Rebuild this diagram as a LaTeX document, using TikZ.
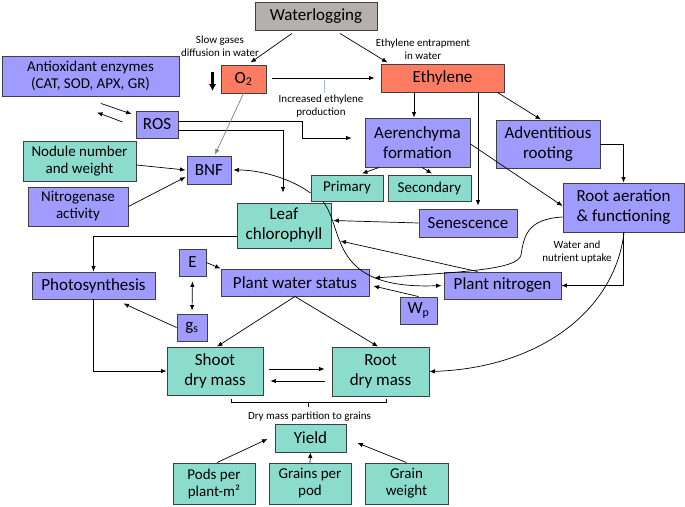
\documentclass[tikz,border=0pt]{standalone}
\usepackage{fontspec}
\setmainfont{Carlito}
\usepackage{xcolor}
\usepackage{tikz}
\usetikzlibrary{arrows.meta, positioning, calc}
\definecolor{wlgray}{HTML}{B3B0AE}
\definecolor{wlpurple}{HTML}{A09CFF}
\definecolor{wlteal}{HTML}{8CDCCD}
\definecolor{wlsalmon}{HTML}{FF7B61}
\definecolor{wlline}{HTML}{404040}
\definecolor{wlblue}{HTML}{9CC3E6}
\newcommand{\facfont}{\fontsize{17}{20}\selectfont}
\newcommand{\minorfont}{\fontsize{15}{17}\selectfont}
\newcommand{\labfont}{\fontsize{11}{13}\selectfont}

\begin{document}
\begin{tikzpicture}[
  x=1pt, y=-1pt,
  facbox/.style={rectangle, draw=wlline, line width=0.9pt, fill=#1,
    align=center, inner sep=1pt, font=\facfont},
  minorbox/.style={facbox=#1, font=\minorfont},
  sz/.style 2 args={minimum width=#1pt, minimum height=#2pt},
  note/.style={align=center, inner sep=0pt, font=\labfont},
  link/.style={->, line width=0.7pt},
  >={Latex[length=5.5pt,width=4.5pt]},
]
  \useasboundingbox (0,0) rectangle (685,506);

  % Top: waterlogging, oxygen and ethylene
  \node[facbox=wlgray, sz={122}{28}] (wlog) at (316,16) {Waterlogging};
  \node[facbox=wlsalmon, sz={45}{28}] (o2) at (243.5,79) {O\textsubscript{2}};
  \node[facbox=wlsalmon, sz={123}{28}] (eth) at (442.5,78) {Ethylene};
  \node[note] (slow) at (220,46) {Slow gases\\diffusion in water};
  \node[note] (entrap) at (423,49) {Ethylene entrapment\\in water};
  \node[note] (incr) at (321,106) {Increased ethylene\\production};

  % Left column
  \node[minorbox=wlpurple, sz={177}{40}] (antiox) at (90.5,76) {Antioxidant enzymes\\(CAT, SOD, APX, GR)};
  \node[facbox=wlpurple, sz={42}{27}] (ros) at (157,124.5) {ROS};
  \node[minorbox=wlteal, sz={113}{40}] (nodule) at (79.5,161) {Nodule number\\and weight};
  \node[facbox=wlpurple, sz={44}{28}] (bnf) at (209,170) {BNF};
  \node[minorbox=wlpurple, sz={100}{39}] (nitro) at (78,206.5) {Nitrogenase\\activity};

  % Ethylene responses
  \node[facbox=wlpurple, sz={105}{49}] (aer) at (417.5,142.5) {Aerenchyma\\formation};
  \node[facbox=wlpurple, sz={104}{48}] (adv) at (548,144) {Adventitious\\rooting};
  \node[minorbox=wlteal, sz={72}{26}] (prim) at (347,188) {Primary};
  \node[minorbox=wlteal, sz={83}{26}] (sec) at (429.5,188) {Secondary};
  \node[facbox=wlpurple, sz={98}{28}] (sen) at (468,223) {Senescence};
  \node[facbox=wlpurple, sz={121}{49}] (raf) at (623.5,207.5) {Root aeration\\\& functioning};
  \node[note] (uptake) at (577,252) {Water and\\nutrient uptake};

  % Middle: leaf, water and nitrogen status
  \node[facbox=wlteal, sz={94}{45}] (leaf) at (284,225.5) {Leaf\\chlorophyll};
  \node[facbox=wlpurple, sz={123}{27}] (photo) at (93.5,285.5) {Photosynthesis};
  \node[facbox=wlpurple, sz={27}{27}] (evap) at (192.5,262.5) {E};
  \node[facbox=wlpurple, sz={148}{27}] (pws) at (295,282.5) {Plant water status};
  \node[facbox=wlpurple, sz={30}{27}] (gs) at (192,327.5) {g\textsubscript{s}};
  \node[facbox=wlpurple, sz={117}{27}] (pn) at (502.5,285.5) {Plant nitrogen};
  \node[facbox=wlpurple, sz={37}{27}] (wp) at (418.5,310.5) {W\textsubscript{p}};

  % Bottom: dry mass and yield
  \node[facbox=wlteal, sz={96}{48}] (shoot) at (215,371) {Shoot\\dry mass};
  \node[facbox=wlteal, sz={97}{49}] (rootdm) at (380.5,371.5) {Root\\dry mass};
  \node[note] (partition) at (309.5,417) {Dry mass partition to grains};
  \node[facbox=wlteal, sz={71}{28}] (yield) at (310.5,438) {Yield};
  \node[minorbox=wlteal, sz={82}{41}] (pods) at (214,483.5) {Pods per\\plant-m²};
  \node[minorbox=wlteal, sz={82}{41}] (gpp) at (310,483.5) {Grains per\\pod};
  \node[minorbox=wlteal, sz={83}{41}] (gw) at (406.5,483.5) {Grain\\weight};

  % Connectors from waterlogging
  \draw[link] ([xshift=-24pt,yshift=-3pt]wlog.south) -- ([xshift=7pt,yshift=2pt]o2.north);
  \draw[link] ([xshift=24pt,yshift=-3pt]wlog.south) -- ([xshift=7pt,yshift=1pt]eth.north west);
  \draw[link] ([xshift=6pt,yshift=1pt]o2.east) -- ([xshift=-6pt]eth.west);
  \draw[wlblue, line width=0.7pt] ([xshift=3pt,yshift=2pt]incr.north) -- ([xshift=3pt,yshift=15pt]incr.north);
  \draw[-{Latex[length=7pt,width=7.5pt]}, line width=2.4pt] ([xshift=-8pt,yshift=7pt]o2.west) -- ([xshift=-8pt,yshift=-12pt]o2.west);

  % ROS and BNF
  \draw[link] ([xshift=10.5pt,yshift=-7pt]antiox.south) -- ([xshift=-4pt,yshift=10.5pt]ros.west);
  \draw[link] ([xshift=-13pt,yshift=2.5pt]ros.west) -- ([xshift=6.5pt,yshift=-16pt]antiox.south);
  \draw[link] ([yshift=3.5pt]ros.east) -| ++(124,17) -- ([xshift=-13pt,yshift=4.5pt]aer.west);
  \draw[link] ([yshift=-5.5pt]ros.east) -| ([xshift=-1pt,yshift=10pt]leaf.north);
  \draw[link, gray] (o2.south) -- ([xshift=6pt,yshift=1pt]bnf.north);
  \draw[link] ([yshift=-4pt]nodule.east) -- ([xshift=-1pt]bnf.west);
  \draw[link] (nitro.east) -- ([xshift=-1pt,yshift=-7pt]bnf.west);

  % Ethylene responses
  \draw[link] ([xshift=-28.5pt]eth.south) -- ([xshift=-3.5pt]aer.north);
  \draw[link] ([xshift=35.5pt]eth.south) -- ([xshift=10pt,yshift=3pt]sen.north);
  \draw[link] ([xshift=-7pt]eth.south east) -- ([xshift=-7pt]adv.north);
  \draw[link] ([xshift=-38.5pt]aer.south) -- ([xshift=15pt,yshift=1pt]prim.north);
  \draw[link] ([xshift=4.5pt]aer.south) -- ([xshift=2.5pt,yshift=1pt]sec.north);
  \draw[link] ([yshift=-1.5pt]aer.east) -- ([yshift=1.5pt]raf.west);
  \draw[link] (adv.east) -| (raf.north);
  \draw[link] (raf.south) |- (pn.east);
  \draw[link] ([yshift=-9.5pt]raf.west) .. controls (528,219) and (524,235) .. (521,255)
    .. controls (518,270) and (460,272) .. ([xshift=5pt,yshift=4.5pt]pws.east);
  \draw[link] ([xshift=0.5pt]raf.south) .. controls (615,310) and (540,368) .. (rootdm.east);

  % Leaf chlorophyll and plant nitrogen
  \draw[link] (sen.west) -- ([xshift=2pt,yshift=5pt]leaf.east);
  \draw[link] ([xshift=-25pt]pn.north) -- ([xshift=9pt,yshift=-15.5pt]leaf.east);
  \draw[link] ([yshift=-5pt]prim.west) .. controls (290,178) and (260,170) .. ([xshift=2pt]bnf.east);
  \draw[link] ([xshift=-24pt]prim.south) .. controls (345,230) and (328,290) .. ([xshift=-2pt]pn.west);
  \draw[link] (wp.north) -- ([xshift=4pt,yshift=-3.5pt]pws.east);

  % Photosynthesis and water status
  \draw[link] ([yshift=-10.5pt]leaf.west) -| (photo.north);
  \draw[link] (photo.south) |- (shoot.west);
  \draw[<->, line width=0.7pt, shorten <=5pt, shorten >=3pt] (evap.south) -- (gs.north);
  \draw[link] (evap.east) -- (pws.north west);
  \draw[link] (gs.west) -- ([xshift=30pt,yshift=-4pt]photo.south);
  \draw[link] (pws.south) -- ([xshift=2pt]shoot.north);
  \draw[link] (pws.south) -- ([xshift=-2.5pt]rootdm.north);

  % Dry mass and yield
  \draw[link] ([xshift=6pt,yshift=2pt]shoot.east) -- ([xshift=-7pt,yshift=2.5pt]rootdm.west);
  \draw[link] ([xshift=-7pt,yshift=-9.5pt]rootdm.west) -- ([xshift=7pt,yshift=-10pt]shoot.east);
  \draw[line width=0.7pt] ([xshift=16pt,yshift=-4pt]shoot.south) -- ++(0,3) -| ([xshift=5.5pt,yshift=-3pt]rootdm.south);
  \draw[line width=0.7pt] ([xshift=-2.5pt,yshift=22pt]yield.north) -- ([xshift=-2.5pt,yshift=17pt]yield.north);
  \draw[link] ([xshift=3pt]pods.north) -- ([xshift=-7pt,yshift=-1pt]yield.west);
  \draw[link] (gpp.north) -- (yield.south);
  \draw[link] (gw.north) -- ([xshift=11pt,yshift=-5pt]yield.east);
\end{tikzpicture}
\end{document}
